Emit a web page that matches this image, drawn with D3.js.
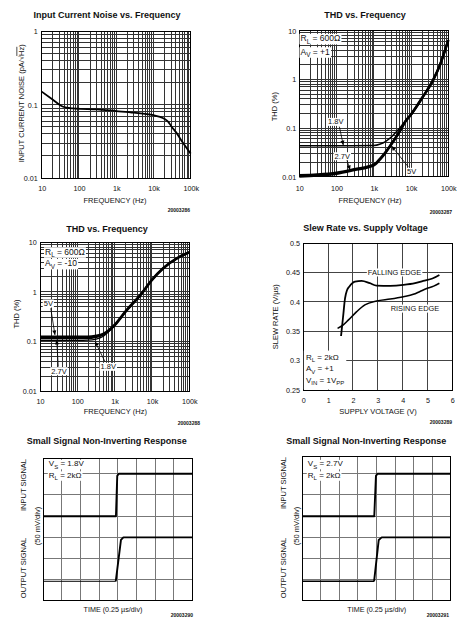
<!DOCTYPE html>
<html><head><meta charset="utf-8">
<script src="https://cdn.jsdelivr.net/npm/d3@7"></script>
<style>
body{margin:0;background:#fff}
svg{display:block}
text{font-family:"Liberation Sans",Arial,Helvetica,sans-serif;fill:#111}
</style>
</head><body>
<svg id="c" width="471" height="620"></svg>
<script>
// ---------------- DATA ----------------
const freqTickVals = [10, 100, 1000, 10000, 100000];
const freqTickText = ["10", "100", "1k", "10k", "100k"];

// Panel 1: input current noise
const noiseTickVals = [0.01, 0.1, 1];
const noiseTickText = ["0.01", "0.1", "1"];
const noiseFreq = [10, 20, 34, 47, 70, 107, 300, 1000, 3000, 10000, 15000, 20000, 25000, 30000, 42000, 60000, 100000];
const noiseVal  = [0.151, 0.117, 0.096, 0.091, 0.089, 0.088, 0.0865, 0.082, 0.078, 0.072, 0.0685, 0.064, 0.0585, 0.051, 0.041, 0.031, 0.0215];

// Panel 2: THD vs frequency, Av=+1
const thdTickVals = [0.01, 0.1, 1, 10];
const thdTickText = ["0.01", "0.1", "1", "10"];
const thdAFreq18 = [10, 100, 1000, 1500, 2000, 3000, 4000, 5000, 7000, 10000, 20000, 40000, 60000, 100000];
const thdA18     = [0.0434, 0.0434, 0.0438, 0.047, 0.052, 0.066, 0.083, 0.1, 0.14, 0.19, 0.42, 1.0, 2.0, 6.4];
const thdAFreq   = [10, 30, 100, 300, 1000, 1500, 2000, 3000, 5000, 7000, 10000, 20000, 40000, 60000, 100000];
const thdA27     = [0.0107, 0.0111, 0.0121, 0.0143, 0.0177, 0.024, 0.031, 0.048, 0.086, 0.135, 0.19, 0.42, 1.0, 2.0, 6.4];
const thdA5      = [0.0101, 0.0105, 0.0115, 0.0137, 0.0171, 0.023, 0.030, 0.047, 0.085, 0.135, 0.19, 0.42, 1.0, 2.0, 6.4];

// Panel 3: THD vs frequency, Av=-10
const thdBFreq = [10, 100, 200, 300, 500, 700, 1000, 2000, 5000, 10000, 20000, 50000, 100000];
const thdB5    = [0.123, 0.123, 0.124, 0.128, 0.141, 0.168, 0.215, 0.41, 0.88, 1.75, 3.0, 4.9, 6.3];
const thdB27   = [0.115, 0.115, 0.116, 0.121, 0.136, 0.165, 0.213, 0.41, 0.88, 1.75, 3.0, 4.9, 6.3];
const thdB18   = [0.105, 0.105, 0.106, 0.11, 0.127, 0.158, 0.208, 0.405, 0.88, 1.75, 3.0, 4.9, 6.3];

// Panel 4: slew rate vs supply voltage
const supplyTicks = [0, 1, 2, 3, 4, 5, 6];
const srTicks = [0.25, 0.3, 0.35, 0.4, 0.45, 0.5];
const srTickText = ["0.25", "0.3", "0.35", "0.4", "0.45", "0.5"];
const fallV  = [1.52, 1.6, 1.68, 1.76, 1.85, 2.08, 2.35, 2.68, 2.95, 3.5, 4.03, 4.5, 4.83, 5.2, 5.48];
const fallSR = [0.342, 0.374, 0.406, 0.42, 0.426, 0.4346, 0.436, 0.432, 0.428, 0.4275, 0.429, 0.432, 0.436, 0.44, 0.446];
const riseV  = [1.38, 1.61, 1.81, 2.15, 2.48, 2.95, 3.5, 4.03, 4.43, 4.7, 4.97, 5.25, 5.48];
const riseSR = [0.355, 0.361, 0.369, 0.3835, 0.395, 0.4017, 0.405, 0.409, 0.413, 0.418, 0.423, 0.427, 0.432];

// Panels 5/6: scope traces (divisions)
const scopeGridX = [1, 2, 3, 4, 5, 6, 7];
const scopeGridY = [1, 2, 3, 4, 5, 6];
const in18T  = [0, 3.9, 3.97, 4.05, 8];
const in18V  = [4, 4, 5.9, 6, 6];
const out18T = [0, 3.89, 4.17, 4.3, 8];
const out18V = [0.93, 0.93, 2.88, 3, 3];
const in27T  = [0, 3.88, 3.97, 4.05, 8];
const in27V  = [4, 4, 5.9, 6, 6];
const out27T = [0, 3.87, 4.12, 4.28, 8];
const out27V = [0.93, 0.93, 2.88, 3, 3];

// ---------------- DRAWING ----------------
const svg = d3.select("#c");
const defs = svg.append("defs");
defs.append("marker").attr("id", "arr").attr("viewBox", "0 0 10 10")
  .attr("refX", 10).attr("refY", 5).attr("markerWidth", 6).attr("markerHeight", 4.5)
  .attr("markerUnits", "userSpaceOnUse").attr("orient", "auto")
  .append("path").attr("d", "M0,0.5 L10,5 L0,9.5 Z").attr("fill", "#000");

function title(cx, cy, t) {
  svg.append("text").attr("x", cx).attr("y", cy + 3.2).attr("text-anchor", "middle")
    .attr("font-size", 9).attr("font-weight", "bold").text(t);
}
function hlabel(cx, cy, t, size) {
  svg.append("text").attr("x", cx).attr("y", cy + size * 0.36).attr("text-anchor", "middle")
    .attr("font-size", size).text(t);
}
function vlabel(cx, cy, t, size) {
  return svg.append("text").attr("transform", `translate(${cx},${cy}) rotate(-90)`)
    .attr("text-anchor", "middle").attr("dy", "0.36em").attr("font-size", size).text(t);
}
function idLabel(rx, cy, t) {
  svg.append("text").attr("x", rx).attr("y", cy + 2).attr("text-anchor", "end")
    .attr("font-size", 5).attr("font-weight", "bold").text(t);
}
// rich text with subscripts and optional white background
function rich(g, x, y, parts, size, bg, anchor) {
  const t = g.append("text").attr("x", x).attr("y", y + size * 0.36).attr("font-size", size)
    .attr("text-anchor", anchor || "start");
  let inSub = false;
  parts.forEach(p => {
    const s = typeof p === "string" ? p : p[0];
    const sub = typeof p !== "string" && p[1] === "sub";
    const ts = t.append("tspan").text(s);
    if (sub && !inSub) ts.attr("font-size", size * 0.75).attr("dy", size * 0.3);
    else if (sub) ts.attr("font-size", size * 0.75);
    else if (!sub && inSub) ts.attr("dy", -size * 0.3);
    inSub = sub;
  });
  if (bg) {
    const b = t.node().getBBox();
    g.insert("rect", () => t.node()).attr("x", b.x - 1).attr("y", b.y + 0.5)
      .attr("width", b.width + 2).attr("height", b.height - 1).attr("fill", "#fff");
  }
  return t;
}
function annotate(g, x, y, a) {
  g.append("line").attr("x1", x(a.from[0])).attr("y1", y(a.from[1]))
    .attr("x2", x(a.to[0])).attr("y2", y(a.to[1]))
    .attr("stroke", "#000").attr("stroke-width", 0.8).attr("marker-end", "url(#arr)");
  rich(g, x(a.at[0]), y(a.at[1]), [a.text], 7.5, true, "middle");
}

function logPanel(o) {
  const g = svg.append("g");
  const x = d3.scaleLog().domain(o.xd).range([o.x0, o.x1]);
  const y = d3.scaleLog().domain(o.yd).range([o.y1, o.y0]);
  const grid = g.append("g").attr("stroke", "#333").attr("stroke-width", 1).attr("shape-rendering", "crispEdges");
  grid.selectAll(null).data(x.ticks()).join("line")
    .attr("x1", d => x(d)).attr("x2", d => x(d)).attr("y1", o.y0).attr("y2", o.y1);
  grid.selectAll(null).data(y.ticks()).join("line")
    .attr("y1", d => y(d)).attr("y2", d => y(d)).attr("x1", o.x0).attr("x2", o.x1);
  g.append("rect").attr("x", o.x0).attr("y", o.y0).attr("width", o.x1 - o.x0).attr("height", o.y1 - o.y0)
    .attr("fill", "none").attr("stroke", "#000").attr("stroke-width", 1).attr("shape-rendering", "crispEdges");
  const ax = g.append("g").attr("transform", `translate(0,${o.y1})`)
    .call(d3.axisBottom(x).tickValues(o.xt).tickFormat((d, i) => o.xtl[i]).tickSize(0).tickPadding(o.xpad));
  ax.select(".domain").remove();
  ax.attr("font-size", 7.2).attr("font-family", null);
  const ay = g.append("g").attr("transform", `translate(${o.x0},0)`)
    .call(d3.axisLeft(y).tickValues(o.yt).tickFormat((d, i) => o.ytl[i]).tickSize(0).tickPadding(o.ypad));
  ay.select(".domain").remove();
  ay.attr("font-size", 7.2).attr("font-family", null);
  return { g, x, y };
}
function drawLine(g, x, y, xs, ys, w, curve) {
  g.append("path").datum(d3.zip(xs, ys)).attr("fill", "none").attr("stroke", "#000")
    .attr("stroke-width", w).attr("stroke-linejoin", "round")
    .attr("d", d3.line().x(d => x(d[0])).y(d => y(d[1])).curve(curve || d3.curveMonotoneX));
}

// ===== Panel 1 =====
title(107, 15, "Input Current Noise vs. Frequency");
const p1 = logPanel({ x0: 41.7, x1: 190.7, y0: 31.5, y1: 178, xd: [10, 100000], yd: [0.01, 1],
  xt: freqTickVals, xtl: freqTickText, yt: noiseTickVals, ytl: noiseTickText, xpad: 7.5, ypad: 4 });
drawLine(p1.g, p1.x, p1.y, noiseFreq, noiseVal, 1.8);
hlabel(115, 200, "FREQUENCY (Hz)", 7.5);
{
  const t = svg.append("text").attr("transform", "translate(20.8,103.3) rotate(-90)")
    .attr("text-anchor", "middle").attr("dy", "0.36em").attr("font-size", 7.5);
  t.append("tspan").text("INPUT CURRENT NOISE (pA/");
  t.append("tspan").text("√");
  t.append("tspan").attr("text-decoration", "overline").text("Hz");
  t.append("tspan").text(")");
}
idLabel(190, 210, "20003286");

// ===== Panel 2 =====
title(365, 15, "THD vs. Frequency");
const p2 = logPanel({ x0: 299.3, x1: 448.3, y0: 30.7, y1: 176.7, xd: [10, 100000], yd: [0.01, 10],
  xt: freqTickVals, xtl: freqTickText, yt: thdTickVals, ytl: thdTickText, xpad: 9, ypad: 3 });
drawLine(p2.g, p2.x, p2.y, thdAFreq18, thdA18, 1.5);
drawLine(p2.g, p2.x, p2.y, thdAFreq, thdA27, 2.4);
drawLine(p2.g, p2.x, p2.y, thdAFreq, thdA5, 2.4);
rich(p2.g, 300.5, 38.3, ["R", ["L", "sub"], " = 600Ω"], 8.5, true);
rich(p2.g, 300.5, 51.7, ["A", ["V", "sub"], " = +1"], 8.5, true);
[
  { text: "1.8V", at: [95, 0.135], from: [119, 0.107], to: [152, 0.0445] },
  { text: "2.7V", at: [143, 0.0266], from: [187, 0.0228], to: [230, 0.0138] },
  { text: "5V", at: [10400, 0.0127], from: [8400, 0.016], to: [3000, 0.0425] }
].forEach(a => annotate(p2.g, p2.x, p2.y, a));
hlabel(370, 200, "FREQUENCY (Hz)", 7.5);
vlabel(274, 106.7, "THD (%)", 7.5);
idLabel(452, 212, "20003287");

// ===== Panel 3 =====
title(107, 228.3, "THD vs. Frequency");
const p3 = logPanel({ x0: 40, x1: 189.3, y0: 242.3, y1: 391, xd: [10, 100000], yd: [0.01, 10],
  xt: freqTickVals, xtl: freqTickText, yt: thdTickVals, ytl: thdTickText, xpad: 8.2, ypad: 3.3 });
drawLine(p3.g, p3.x, p3.y, thdBFreq, thdB18, 1.2);
drawLine(p3.g, p3.x, p3.y, thdBFreq, thdB27, 1.8);
drawLine(p3.g, p3.x, p3.y, thdBFreq, thdB5, 2.8);
rich(p3.g, 45, 251.7, ["R", ["L", "sub"], " = 600Ω"], 8.5, true);
rich(p3.g, 45, 263.3, ["A", ["V", "sub"], " = -10"], 8.5, true);
[
  { text: "5V", at: [16.7, 0.588], from: [19.4, 0.467], to: [25.2, 0.135] },
  { text: "2.7V", at: [32.3, 0.0253], from: [30.9, 0.031], to: [28, 0.108] },
  { text: "1.8V", at: [676, 0.031], from: [551, 0.039], to: [297, 0.1] }
].forEach(a => annotate(p3.g, p3.x, p3.y, a));
hlabel(115.3, 411.7, "FREQUENCY (Hz)", 7.5);
vlabel(15.8, 314, "THD (%)", 7.5);
idLabel(200, 423, "20003288");

// ===== Panel 4 =====
title(365.5, 227.5, "Slew Rate vs. Supply Voltage");
{
  const o = { x0: 303.3, x1: 452.3, y0: 243.3, y1: 390 };
  const g = svg.append("g");
  const x = d3.scaleLinear().domain([0, 6]).range([o.x0, o.x1]);
  const y = d3.scaleLinear().domain([0.25, 0.5]).range([o.y1, o.y0]);
  const grid = g.append("g").attr("stroke", "#444").attr("stroke-width", 1).attr("shape-rendering", "crispEdges");
  grid.selectAll(null).data(supplyTicks.slice(1, -1)).join("line")
    .attr("x1", d => x(d)).attr("x2", d => x(d)).attr("y1", o.y0).attr("y2", o.y1);
  grid.selectAll(null).data(srTicks.slice(1, -1)).join("line")
    .attr("y1", d => y(d)).attr("y2", d => y(d)).attr("x1", o.x0).attr("x2", o.x1);
  g.append("rect").attr("x", o.x0).attr("y", o.y0).attr("width", o.x1 - o.x0).attr("height", o.y1 - o.y0)
    .attr("fill", "none").attr("stroke", "#000").attr("shape-rendering", "crispEdges");
  const ax = g.append("g").attr("transform", `translate(0,${o.y1})`)
    .call(d3.axisBottom(x).tickValues(supplyTicks).tickFormat(d3.format("d")).tickSize(0).tickPadding(7.5));
  ax.select(".domain").remove();
  ax.attr("font-size", 7.2).attr("font-family", null);
  const ay = g.append("g").attr("transform", `translate(${o.x0},0)`)
    .call(d3.axisLeft(y).tickValues(srTicks).tickFormat((d, i) => srTickText[i]).tickSize(0).tickPadding(3.3));
  ay.select(".domain").remove();
  ay.attr("font-size", 7.2).attr("font-family", null);
  // note box bottom-left
  const nb = g.append("g");
  const t1 = rich(nb, o.x0 + 2.7, o.y1 - 33.3, ["R", ["L", "sub"], " = 2kΩ"], 8, false);
  const t2 = rich(nb, o.x0 + 2.7, o.y1 - 21.7, ["A", ["V", "sub"], " = +1"], 8, false);
  const t3 = rich(nb, o.x0 + 2.7, o.y1 - 10, ["V", ["IN", "sub"], " = 1V", ["PP", "sub"]], 8, false);
  const bb = [t1, t2, t3].map(t => t.node().getBBox());
  const bx1 = d3.max(bb, b => b.x + b.width) + 2, by0 = d3.min(bb, b => b.y) - 2;
  nb.insert("rect", ":first-child").attr("x", o.x0 + 0.5).attr("y", by0)
    .attr("width", bx1 - o.x0 - 0.5).attr("height", o.y1 - by0 - 0.5).attr("fill", "#fff");
  drawLine(g, x, y, riseV, riseSR, 1.6);
  drawLine(g, x, y, fallV, fallSR, 1.8);
  rich(g, x(2.6), y(0.4506), ["FALLING EDGE"], 7.4, true);
  rich(g, x(3.52), y(0.389), ["RISING EDGE"], 7.4, true);
}
hlabel(378, 411.7, "SUPPLY VOLTAGE (V)", 7.5);
vlabel(275, 316.7, "SLEW RATE (V/µs)", 7.5);
idLabel(452, 421.7, "20003289");

// ===== Panels 5 and 6 =====
function scopePanel(o) {
  const g = svg.append("g");
  const x = d3.scaleLinear().domain([0, 8]).range([o.x0, o.x1]);
  const y = d3.scaleLinear().domain([0, 6.745]).range([601, 458]);
  const grid = g.append("g").attr("stroke", "#777").attr("stroke-width", 1).attr("shape-rendering", "crispEdges");
  grid.selectAll(null).data(scopeGridX).join("line")
    .attr("x1", d => x(d)).attr("x2", d => x(d)).attr("y1", o.y0).attr("y2", o.y1);
  grid.selectAll(null).data(scopeGridY).join("line")
    .attr("y1", d => y(d)).attr("y2", d => y(d)).attr("x1", o.x0).attr("x2", o.x1);
  g.append("rect").attr("x", o.x0).attr("y", o.y0).attr("width", o.x1 - o.x0).attr("height", o.y1 - o.y0)
    .attr("fill", "none").attr("stroke", "#000").attr("shape-rendering", "crispEdges");
  rich(g, o.x0 + 5.5, 463.5, ["V", ["S", "sub"], " = " + o.vs], 8, true);
  rich(g, o.x0 + 5.5, 475, ["R", ["L", "sub"], " = 2kΩ"], 8, true);
  drawLine(g, x, y, o.inT, o.inV, 1.9, d3.curveLinear);
  drawLine(g, x, y, o.outT.slice(0, 2), o.outV.slice(0, 2), o.lowW, d3.curveLinear);
  drawLine(g, x, y, o.outT.slice(1), o.outV.slice(1), 1.9, d3.curveLinear);
  hlabel(o.tcx, 609, "TIME (0.25 µs/div)", 7.2);
  vlabel(o.lx, o.iy, "INPUT SIGNAL", 7.5);
  vlabel(o.lx + 13.5, 526, "(50 mV/div)", 7.5);
  vlabel(o.lx, 568, "OUTPUT SIGNAL", 7.5);
}
title(106.7, 441, "Small Signal Non-Inverting Response");
scopePanel({ x0: 43.3, x1: 192.3, y0: 458, y1: 600, vs: "1.8V", inT: in18T, inV: in18V,
  outT: out18T, outV: out18V, lowW: 1, tcx: 113, lx: 23.5, iy: 485 });
title(366.2, 441, "Small Signal Non-Inverting Response");
scopePanel({ x0: 302.3, x1: 450.7, y0: 456, y1: 600, vs: "2.7V", inT: in27T, inV: in27V,
  outT: out27T, outV: out27V, lowW: 1.5, tcx: 376.7, lx: 283, iy: 483 });
idLabel(193, 615, "20003290");
idLabel(449, 615, "20003291");
</script>
</body></html>
